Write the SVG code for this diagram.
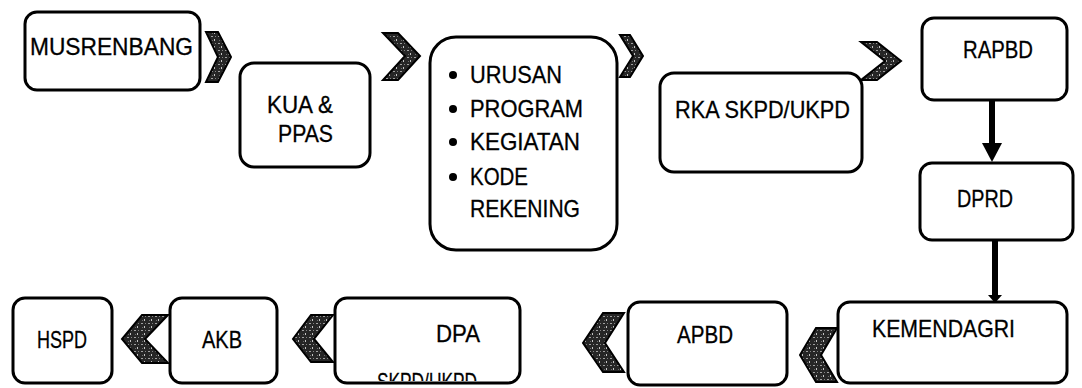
<svg xmlns="http://www.w3.org/2000/svg" width="1082" height="388" viewBox="0 0 1082 388">
<style>
.box{fill:#fff;stroke:#000;stroke-width:3}
.t{font-family:"Liberation Sans",Arial,sans-serif;font-size:24px;fill:#000;stroke:#000;stroke-width:0.3}
.chev{fill:url(#tex);stroke:#000;stroke-width:2;stroke-linejoin:miter}
.shaft{stroke:#000;fill:none}
</style>
<defs>
<pattern id="tex" width="7" height="7" patternUnits="userSpaceOnUse">
<rect width="7" height="7" fill="#262626"/>
<rect x="1" y="1" width="2" height="1" fill="#a0a0a0"/>
<rect x="4" y="4" width="1" height="2" fill="#c4c4c4"/>
<rect x="5" y="1" width="1" height="1" fill="#808080"/>
<rect x="2" y="5" width="1" height="1" fill="#6a6a6a"/>
</pattern>
<clipPath id="dpaClip"><rect x="336" y="299" width="183" height="82"/></clipPath>
</defs>
<rect width="1082" height="388" fill="#fff"/>

<g id="connectors">
<polygon class="chev" points="206,32 218,32 231,57 218,82 206,82 218,57"/>
<polygon class="chev" points="383,33 398,33 420,56 398,80 383,80 405,56"/>
<polygon class="chev" points="620,35 630,35 643,56 630,77 620,77 633,56"/>
<polygon class="chev" points="861,42 877,42 901,61 877,80 861,80 885,61"/>
<polygon class="chev" points="816,328 837,328 821,355 837,382 816,382 800,355"/>
<polygon class="chev" points="603,313 624,313 605,343 624,372 603,372 583,343"/>
<polygon class="chev" points="311,315 333,315 314,339 333,362 311,362 293,339"/>
<polygon class="chev" points="142,315 168,315 145,339 168,363 142,363 122,339"/>
<line class="shaft" x1="992" y1="100" x2="992" y2="146" stroke-width="6"/>
<polygon points="982,143 1002,143 992,162" fill="#000"/>
<line class="shaft" x1="995" y1="240" x2="995" y2="298" stroke-width="6"/>
<polygon points="988,295 1002,295 995,303" fill="#000"/>
</g>

<g id="musrenbang">
<rect class="box" x="25" y="12" width="175" height="78" rx="12"/>
<text class="t" x="30" y="55" textLength="163" lengthAdjust="spacingAndGlyphs">MUSRENBANG</text>
</g>
<g id="kua-ppas">
<rect class="box" x="240" y="63" width="130" height="104" rx="14"/>
<text class="t" x="267" y="113" textLength="66" lengthAdjust="spacingAndGlyphs">KUA &amp;</text>
<text class="t" x="278" y="142" textLength="55" lengthAdjust="spacingAndGlyphs">PPAS</text>
</g>
<g id="urusan">
<rect class="box" x="430" y="37" width="187" height="213" rx="26"/>
<circle cx="453" cy="75" r="4"/>
<circle cx="453" cy="109" r="4"/>
<circle cx="453" cy="142" r="4"/>
<circle cx="453" cy="177" r="4"/>
<text class="t" x="470" y="83" textLength="92" lengthAdjust="spacingAndGlyphs">URUSAN</text>
<text class="t" x="470" y="117" textLength="113" lengthAdjust="spacingAndGlyphs">PROGRAM</text>
<text class="t" x="470" y="150" textLength="110" lengthAdjust="spacingAndGlyphs">KEGIATAN</text>
<text class="t" x="470" y="185" textLength="58" lengthAdjust="spacingAndGlyphs">KODE</text>
<text class="t" x="470" y="217" textLength="110" lengthAdjust="spacingAndGlyphs">REKENING</text>
</g>
<g id="rka">
<rect class="box" x="660" y="73" width="202" height="99" rx="14"/>
<text class="t" x="675" y="118" textLength="175" lengthAdjust="spacingAndGlyphs">RKA SKPD/UKPD</text>
</g>
<g id="rapbd">
<rect class="box" x="922" y="18" width="145" height="82" rx="12"/>
<text class="t" x="963" y="58" textLength="70" lengthAdjust="spacingAndGlyphs">RAPBD</text>
</g>
<g id="dprd">
<rect class="box" x="920" y="163" width="153" height="77" rx="12"/>
<text class="t" x="957" y="207" textLength="56" lengthAdjust="spacingAndGlyphs">DPRD</text>
</g>
<g id="kemendagri">
<rect class="box" x="838" y="302" width="229" height="81" rx="12"/>
<text class="t" x="872" y="337" textLength="143" lengthAdjust="spacingAndGlyphs">KEMENDAGRI</text>
</g>
<g id="apbd">
<rect class="box" x="628" y="302" width="159" height="83" rx="12"/>
<text class="t" x="677" y="343" textLength="56" lengthAdjust="spacingAndGlyphs">APBD</text>
</g>
<g id="dpa">
<rect class="box" x="335" y="298" width="185" height="85" rx="12"/>
<text class="t" x="436" y="342" textLength="44" lengthAdjust="spacingAndGlyphs">DPA</text>
<text class="t" x="377" y="390" textLength="100" lengthAdjust="spacingAndGlyphs" clip-path="url(#dpaClip)">SKPD/UKPD</text>
</g>
<g id="akb">
<rect class="box" x="170" y="298" width="107" height="85" rx="12"/>
<text class="t" x="202" y="348" textLength="40" lengthAdjust="spacingAndGlyphs">AKB</text>
</g>
<g id="hspd">
<rect class="box" x="13" y="298" width="99" height="85" rx="12"/>
<text class="t" x="37" y="348" textLength="50" lengthAdjust="spacingAndGlyphs">HSPD</text>
</g>
</svg>
